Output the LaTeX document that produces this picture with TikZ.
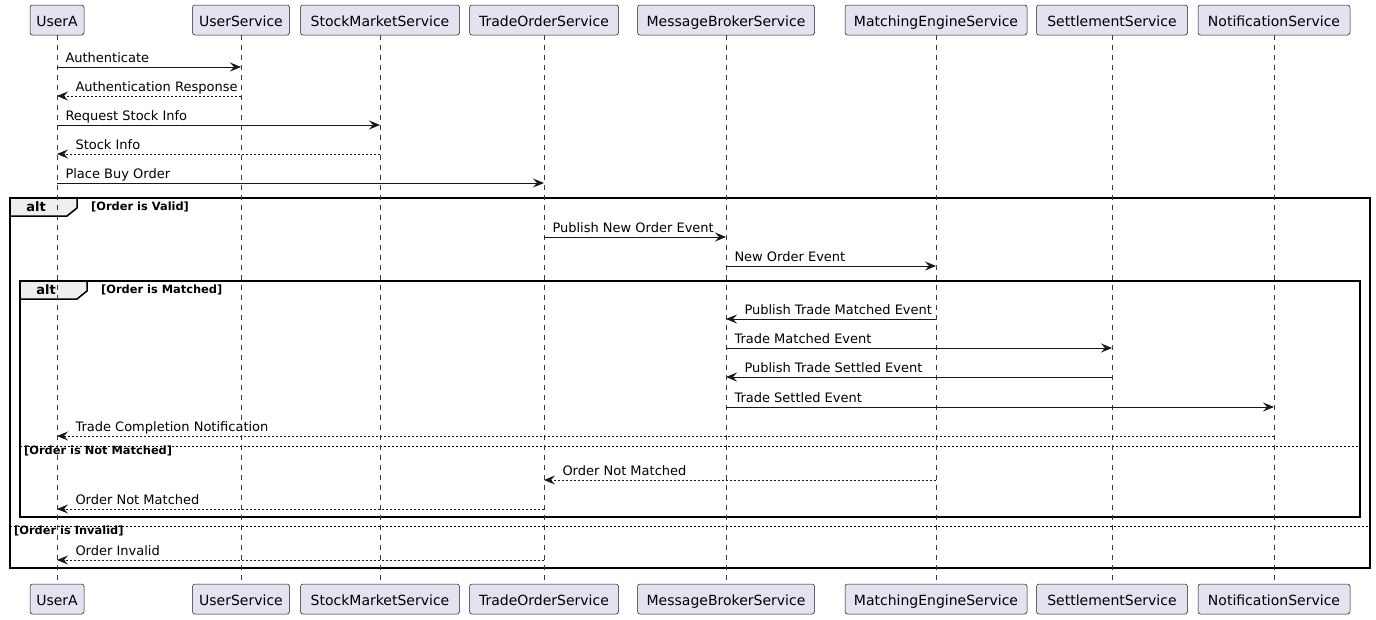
\documentclass[tikz,border=0pt]{standalone}
\usepackage{fontspec}
\setmainfont{DejaVu Sans}
\usetikzlibrary{arrows.meta, positioning, calc}
\definecolor{Lane}{RGB}{226, 226, 240}
\definecolor{Ink}{RGB}{24, 24, 24}
\definecolor{TabGray}{RGB}{238, 238, 238}

\begin{document}
\begin{tikzpicture}[x=1pt, y=-1pt,
    actor/.style={draw=Ink, fill=Lane, rounded corners=2.5pt, minimum height=30pt, inner xsep=2pt, text height=13pt, text depth=0pt, line width=0.5pt, font=\fontsize{14}{16}\selectfont},
    lifeline/.style={draw=Ink!85, line width=0.5pt, dash pattern=on 5pt off 5pt},
    msg/.style={draw=Ink, line width=1pt, -{Stealth[length=11pt, width=9pt, inset=4pt]}},
    reply/.style={msg, dash pattern=on 2pt off 2pt},
    lbl/.style={font=\fontsize{13}{15}\selectfont, anchor=base west, inner sep=0pt, yshift=5pt},
    rlbl/.style={lbl, at start, xshift=8pt},
    llbl/.style={lbl, at end, xshift=18pt},
    frame/.style={draw=black, line width=1.5pt},
    sep/.style={draw=black, line width=1pt, dash pattern=on 2pt off 2pt},
    kind/.style={font=\bfseries\fontsize{13}{15}\selectfont, inner sep=0pt},
    guard/.style={font=\bfseries\fontsize{11.4}{13}\selectfont, anchor=west, inner sep=0pt}]
            \useasboundingbox (0,0) rectangle (1376,619);

            % Alt frames
            \draw[frame] (10,198) rectangle (1370,568);
            \draw[frame, fill=TabGray] (10,198) -- (77,198) -- (77,208) -- (67,216) -- (10,216) -- cycle;
            \node[kind] (alt1) at (36,207) {alt};
            \node[guard] (g1) at (91,207) {[Order is Valid]};
            \draw[sep] (10,526) -- (1370,526);
            \node[guard] (g3) at (14,531) {[Order is Invalid]};

            \draw[frame] (20,281) rectangle (1360,517);
            \draw[frame, fill=TabGray] (20,281) -- (87,281) -- (87,291) -- (77,299) -- (20,299) -- cycle;
            \node[kind] (alt2) at (46,290) {alt};
            \node[guard] (g2) at (101,290) {[Order is Matched]};
            \draw[sep] (20,446) -- (1360,446);
            \node[guard] (g4) at (24,451) {[Order is Not Matched]};

            % Participants and lifelines
            \foreach \n/\x/\w/\t in {ua/57/54/UserA, us/241/97/UserService, sm/380/159/StockMarketService,
                to/544/149/TradeOrderService, mb/726/177/MessageBrokerService, me/936/182/MatchingEngineService,
                st/1112/151/SettlementService, ns/1274/152/NotificationService} {
                \node[actor, minimum width=\w pt] (\n-top) at (\x,20) {\t};
                \node[actor, minimum width=\w pt] (\n-bot) at (\x,599) {\t};
                \draw[lifeline] (\n-top.south) -- (\n-bot.north);
            }

            % Messages
            \draw[msg] (ua-top |- 0,67) -- node[rlbl] (m1) {Authenticate} (us-top |- 0,67);
            \draw[reply] (us-top |- 0,96) -- node[llbl] (m2) {Authentication Response} (ua-top |- 0,96);
            \draw[msg] (ua-top |- 0,125) -- node[rlbl] (m3) {Request Stock Info} (sm-top |- 0,125);
            \draw[reply] (sm-top |- 0,154) -- node[llbl] (m4) {Stock Info} (ua-top |- 0,154);
            \draw[msg] (ua-top |- 0,183) -- node[rlbl] (m5) {Place Buy Order} (to-top |- 0,183);

            \draw[msg] (to-top |- 0,237) -- node[rlbl] (m6) {Publish New Order Event} (mb-top |- 0,237);
            \draw[msg] (mb-top |- 0,266) -- node[rlbl] (m7) {New Order Event} (me-top |- 0,266);

            \draw[msg] (me-top |- 0,319) -- node[llbl] (m8) {Publish Trade Matched Event} (mb-top |- 0,319);
            \draw[msg] (mb-top |- 0,348) -- node[rlbl] (m9) {Trade Matched Event} (st-top |- 0,348);
            \draw[msg] (st-top |- 0,377) -- node[llbl] (m10) {Publish Trade Settled Event} (mb-top |- 0,377);
            \draw[msg] (mb-top |- 0,407) -- node[rlbl] (m11) {Trade Settled Event} (ns-top |- 0,407);
            \draw[reply] (ns-top |- 0,436) -- node[llbl] (m12) {Trade Completion Notification} (ua-top |- 0,436);

            \draw[reply] (me-top |- 0,480) -- node[llbl] (m13) {Order Not Matched} (to-top |- 0,480);
            \draw[reply] (to-top |- 0,509) -- node[llbl] (m14) {Order Not Matched} (ua-top |- 0,509);

            \draw[reply] (to-top |- 0,560) -- node[llbl] (m15) {Order Invalid} (ua-top |- 0,560);
        \end{tikzpicture}
\end{document}
